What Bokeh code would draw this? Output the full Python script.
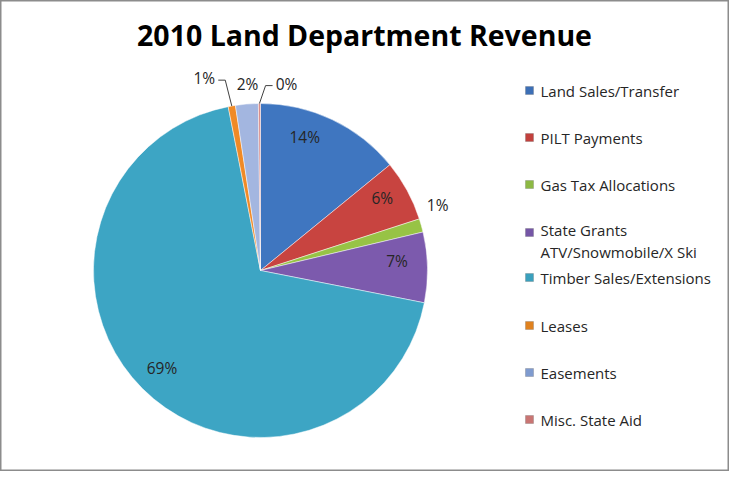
import numpy as np
from bokeh.plotting import figure
from bokeh.models import Range1d, ColumnDataSource
from bokeh.core.properties import value
from bokeh.embed import file_html
from bokeh.resources import INLINE

# ---- data ----
categories = ["Land Sales/Transfer", "PILT Payments", "Gas Tax Allocations",
              "State Grants\nATV/Snowmobile/X Ski", "Timber Sales/Extensions",
              "Leases", "Easements", "Misc. State Aid"]
values = [14.1, 5.9, 1.3, 6.8, 68.8, 0.7, 2.2, 0.2]
title_text = "2010 Land Department Revenue"

# ---- style / layout ----
colors = ["#3F76C0", "#C84440", "#97C345", "#7C5AAD", "#3DA5C4", "#F08A26", "#A3B6E0", "#D98E8C"]
legend_colors = ["#3C6FB6", "#C2403D", "#8DB944", "#7556A6", "#3AA0BD", "#E0821F", "#7F9BCF", "#C97573"]
label_r = [0.84, 0.85, 1.13, 0.82, 0.83, 1.20, 1.12, 1.13]
label_shift = [-7.0, -2.3, -4.5, -3.1, 0.3, -6.4, 0.7, 8.3]
leader = [False, False, False, False, False, True, False, True]

W, H = 729, 471
FONT = "Open Sans"

def to_data(sx, sy):
    return sx - 8, (H + 8) - sy

cx, cy = to_data(268, 278)
R = 167.0

vals = np.array(values, dtype=float)
frac = vals / vals.sum()
cum = np.concatenate([[0.0], np.cumsum(frac)])
theta0 = cum[:-1] * 2 * np.pi          # clockwise from top
theta1 = cum[1:] * 2 * np.pi
start = np.pi / 2 - theta0
end = np.pi / 2 - theta1
mid = (theta0 + theta1) / 2

p = figure(width=W, height=H, output_backend="svg", toolbar_location=None,
           x_range=Range1d(0, W), y_range=Range1d(0, H), min_border=0)
p.axis.visible = False
p.grid.visible = False
p.outline_line_color = "#8C8C8C"
p.outline_line_width = 2
p.background_fill_color = "white"
p.border_fill_color = "white"

src = ColumnDataSource(dict(start=start, end=end, color=colors))
p.wedge(x=cx, y=cy, radius=R, start_angle="start", end_angle="end", direction="clock",
        fill_color="color", line_color="white", line_width=0.8, line_alpha=0.6, source=src)

# slice labels
la = mid + np.radians(label_shift)
lx = cx + R * np.array(label_r) * np.sin(la)
ly = cy + R * np.array(label_r) * np.cos(la)
pct = [f"{round(v * 100):.0f}%" for v in frac]
p.text(x=lx, y=ly, text=pct, text_font=value(FONT), text_font_size="15.5px",
       text_color="#262626", text_align="center", text_baseline="middle")

# leader lines
for i in range(len(values)):
    if not leader[i]:
        continue
    ex = cx + R * np.sin(mid[i])
    ey = cy + R * np.cos(mid[i])
    side = 1.0 if ex > lx[i] else -1.0
    endx = lx[i] + side * 14
    endy = ly[i] - 2
    elbx = endx + side * 7
    p.line(x=[ex, elbx, endx], y=[ey, endy, endy], line_color="#404040", line_width=1)

# title
tx, ty = to_data(372, 42)
p.text(x=[tx], y=[ty], text=[title_text], text_font=value(FONT), text_font_size="28.5px",
       text_font_style="bold", text_color="#000000", text_align="center", text_baseline="middle")

# legend (manual)
leg_sy = [98, 145, 192, 240, 285, 333, 380, 427]
sq_x, _ = to_data(537, 0)
txt_x, _ = to_data(548, 0)
leg_y = [to_data(0, s)[1] for s in leg_sy]
p.rect(x=[sq_x] * len(categories), y=leg_y, width=8, height=8, fill_color=legend_colors,
       line_color="#555555", line_alpha=0.5, line_width=0.5)
line_h = 17
nlines = [c.count("\n") + 1 for c in categories]
txt_y = [y - (n - 1) * line_h / 2 for y, n in zip(leg_y, nlines)]
p.text(x=[txt_x] * len(categories), y=txt_y, text=categories, text_font=value(FONT),
       text_font_size="15px", text_color="#262626", text_align="left", text_baseline="middle",
       text_line_height=1.13)

open("out.html", "w").write(file_html(p, INLINE))
